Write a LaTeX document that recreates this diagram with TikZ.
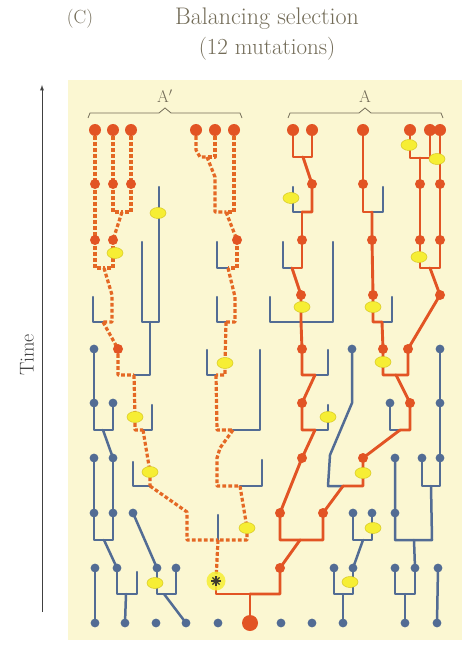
\documentclass[tikz,border=0pt]{standalone}
\usepackage{tikz}
\definecolor{bluec}{RGB}{82,108,148}
\definecolor{redc}{RGB}{226,84,36}
\definecolor{redd}{RGB}{228,104,36}
\definecolor{yel}{RGB}{246,238,52}
\definecolor{yelo}{RGB}{215,200,40}
\definecolor{panel}{RGB}{251,247,210}
\definecolor{txt}{RGB}{115,108,88}
\begin{document}
\begin{tikzpicture}[x=1pt,y=-1pt,
  bl/.style={draw=bluec,line width=2.5pt,line join=round,line cap=round},
  rs/.style={draw=redc,line width=2.9pt,line join=round,line cap=round},
  rd/.style={draw=redd,line width=3.2pt,line join=round,dash pattern=on 3.8pt off 2.2pt},
  lab/.style={text=txt,font=\fontsize{17}{20}\selectfont},
  brk/.style={draw=txt,line width=0.8pt}]
\useasboundingbox (0,0) rectangle (470,650);
\fill[white] (0,0) rectangle (470,650);
\fill[panel] (68,80) rectangle (462,640);
% titles
\node[lab,font=\fontsize{19}{22}\selectfont] (tc) at (80,19) {(C)};
\node[lab,font=\fontsize{24}{28}\selectfont] (t1) at (267,19) {Balancing selection};
\node[lab,font=\fontsize{23}{27}\selectfont] (t2) at (267,49) {(12 mutations)};
\node[lab] (la) at (165,96) {A$'$};
\node[lab] (lb) at (365,96) {A};
\draw[brk] (88,118) -- (90,113) -- (159,113) -- (165,108) -- (171,113) -- (240,113) -- (242,118);
\draw[brk] (288,118) -- (290,113) -- (359,113) -- (365,108) -- (371,113) -- (441,113) -- (443,118);
% time arrow
\coordinate (tb) at (42,612);
\coordinate (tt) at (42,85);
\draw[black!75,line width=0.9pt,-latex] (tb) -- (tt);
\node[lab,text=black!75,rotate=90,font=\fontsize{20}{24}\selectfont] (time) at (27,355) {Time};
% ---------------- blue lines ----------------
\draw[bl] (93,297)--(93,322)--(103,322);
\draw[bl] (142,242)--(142,322)--(159,322)--(159,187);
\draw[bl] (150,322)--(150,375)--(134,375);
\draw[bl] (152,405)--(152,430)--(143,430);
\draw[bl] (133,462)--(133,486)--(150,486);
\draw[bl] (217,242)--(217,268)--(228,268);
\draw[bl] (217,297)--(217,322)--(226,322);
\draw[bl] (207,350)--(207,375)--(216,375);
\draw[bl] (260,350)--(260,430)--(233,430);
\draw[bl] (262,460)--(262,486)--(240,486);
\draw[bl] (218,515)--(218,540);
\draw[bl] (293,187)--(293,212)--(302,212);
\draw[bl] (283,242)--(283,268)--(292,268);
\draw[bl] (270,297)--(270,322)--(333,322)--(333,242);
\draw[bl] (328,350)--(328,375)--(315,375);
\draw[bl] (328,405)--(328,430)--(315,430);
\draw[bl] (383,187)--(383,212)--(372,212);
\draw[bl] (392,297)--(392,322)--(382,322);
\draw[bl] (390,403)--(390,430)--(400,430);
\draw[bl] (352,349)--(352,403)--(330,455)--(328,486)--(343,486);
\draw[bl] (94,349)--(94,430)--(113,430)--(113,403);
\draw[bl] (103,430)--(113,458);
\draw[bl] (94,458)--(94,540)--(113,540)--(113,458);
\draw[bl] (104,540)--(117,568);
\draw[bl] (95,568)--(95,623);
\draw[bl] (117,568)--(117,594)--(137,594)--(137,572);
\draw[bl] (126,594)--(125,623);
\draw[bl] (133,513)--(157,568);
\draw[bl] (157,568)--(157,594)--(176,594)--(176,568);
\draw[bl] (164,594)--(186,623);
\draw[bl] (440,349)--(440,486)--(422,486)--(422,458);
\draw[bl] (395,458)--(395,540)--(432,540)--(431,486);
\draw[bl] (414,540)--(415,568);
\draw[bl] (395,568)--(395,594)--(415,594)--(415,568);
\draw[bl] (405,594)--(405,623);
\draw[bl] (438,568)--(437,623);
\draw[bl] (353,513)--(353,540)--(372,540)--(372,513);
\draw[bl] (363,540)--(353,568);
\draw[bl] (334,568)--(334,594)--(353,594)--(353,568);
\draw[bl] (343,594)--(343,623);
% ---------------- A' dashed lineages ----------------
\draw[rd] (95,130)--(95,240);
\draw[rd] (113,130)--(113,212)--(122,212);
\draw[rd] (131,130)--(131,212)--(122,212);
\draw[rd] (122,212)--(113,240);
\draw[rd] (95,240)--(95,268)--(104,268);
\draw[rd] (113,240)--(113,268)--(104,268);
\draw[rd] (104,268)--(112,295)--(112,322)--(103,322);
\draw[rd] (103,322)--(118,349)--(118,375)--(134,375);
\draw[rd] (134,375)--(135,417)--(135,430)--(143,430);
\draw[rd] (143,430)--(150,472)--(150,486);
\draw[rd] (150,486)--(187,512)--(187,540)--(218,540);
\draw[rd] (196,130)--(196,150)--(200,157)--(207,157);
\draw[rd] (215,130)--(215,157)--(207,157);
\draw[rd] (207,157)--(215,177)--(215,212)--(226,212);
\draw[rd] (234,130)--(234,212)--(226,212);
\draw[rd] (226,212)--(237,240);
\draw[rd] (237,240)--(237,268)--(228,268);
\draw[rd] (228,268)--(235,297)--(235,322)--(226,322);
\draw[rd] (226,322)--(225,363)--(225,375)--(216,375);
\draw[rd] (216,375)--(217,430)--(233,430);
\draw[rd] (233,430)--(220,448)--(217,458)--(217,486)--(240,486);
\draw[rd] (240,486)--(247,528)--(247,540)--(218,540);
\draw[rd] (218,540)--(216,580);
% ---------------- A solid lineages ----------------
\draw[rs] (216,580)--(216,594)--(250,594);
\draw[rs] (293,130)--(293,157)--(303,157);
\draw[rs] (312,130)--(312,157)--(303,157);
\draw[rs] (303,157)--(312,184)--(312,212)--(302,212);
\draw[rs] (302,212)--(302,268)--(292,268);
\draw[rs] (292,268)--(301,295)--(301,322);
\draw[rs] (301,322)--(302,349)--(302,375)--(315,375);
\draw[rs] (315,375)--(302,403)--(302,430)--(315,430);
\draw[rs] (315,430)--(302,458)--(280,513)--(280,540)--(300,540);
\draw[rs] (363,130)--(363,212)--(372,212);
\draw[rs] (372,212)--(372,240)--(373,295)--(373,322)--(382,322);
\draw[rs] (382,322)--(383,349)--(383,375)--(396,375);
\draw[rs] (410,130)--(410,158)--(420,158);
\draw[rs] (430,130)--(430,158)--(420,158);
\draw[rs] (420,158)--(420,268)--(430,268);
\draw[rs] (440,130)--(440,268)--(430,268);
\draw[rs] (430,268)--(440,295)--(408,349)--(408,375)--(396,375);
\draw[rs] (396,375)--(410,403)--(410,430)--(400,430);
\draw[rs] (400,430)--(363,458)--(363,486)--(343,486);
\draw[rs] (343,486)--(323,513)--(323,540)--(300,540);
\draw[rs] (300,540)--(280,568)--(280,594)--(250,594);
\draw[rs] (250,594)--(250,623);
% ---------------- dots ----------------
\foreach \p in {{94,349},{352,349},{440,349},{94,403},{113,403},{390,403},{440,403},
  {94,458},{113,458},{395,458},{422,458},{440,458},
  {94,513},{113,513},{133,513},{353,513},{372,513},{395,513},
  {95,568},{117,568},{157,568},{176,568},{334,568},{353,568},{395,568},{415,568},{438,568},
  {95,623},{125,623},{156,623},{186,623},{218,623},{281,623},{312,623},{343,623},{405,623},{437,623}}
  \fill[bluec] (\p) circle (4.4pt);
\foreach \p in {{95,130},{113,130},{131,130},{196,130},{215,130},{234,130},
  {293,130},{312,130},{363,130},{410,130},{430,130},{440,130}}
  \fill[redc] (\p) circle (6pt);
\foreach \p in {{95,184},{113,184},{131,184},{312,184},{363,184},{420,184},{440,184},
  {95,240},{113,240},{237,240},{302,240},{372,240},{420,240},{440,240},
  {301,295},{373,295},{440,295},
  {118,349},{302,349},{383,349},{408,349},
  {302,403},{410,403},{302,458},{363,458},{280,513},{323,513},{280,568}}
  \fill[redc] (\p) circle (5pt);
\fill[redc] (250,623) circle (8pt);
% ---------------- mutations ----------------
\foreach \p in {{158,213},{115,253},{291,198},{409,145},{437,159},{419,257},
  {302,307},{373,307},{383,362},{225,363},{328,417},{135,417},
  {150,472},{363,473},{247,528},{373,528},{155,583},{350,582}}
  \filldraw[fill=yel,draw=yelo,line width=0.5pt] (\p) ellipse (8pt and 5.5pt);
% ---------------- star ----------------
\fill[yel,opacity=0.85] (216,581) circle (9.5pt);
\foreach \a in {0,45,90,135}
  \draw[black!75!olive,line width=1.3pt] (216,581) ++(\a:5pt) -- ++(\a+180:10pt);
\end{tikzpicture}
\end{document}
